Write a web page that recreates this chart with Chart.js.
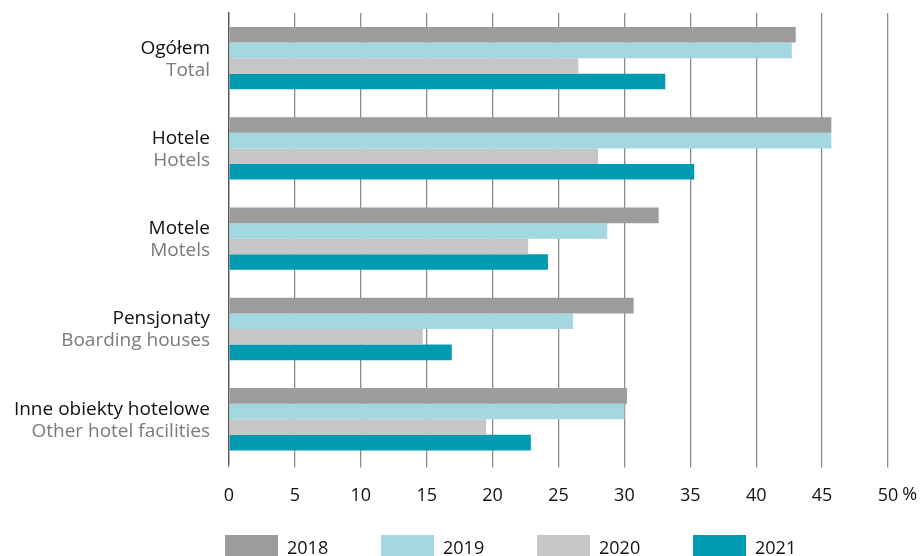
<!DOCTYPE html>
<html>
<head>
<meta charset="utf-8">
<script src="https://cdn.jsdelivr.net/npm/chart.js@4"></script>
<style>
  html, body { margin: 0; padding: 0; background: #fff; }
  #wrap { width: 922px; height: 556px; }
</style>
</head>
<body>
<div id="wrap"><canvas id="wykres"></canvas></div>
<script>
const kategorie = ["Ogółem", "Hotele", "Motele", "Pensjonaty", "Inne obiekty hotelowe"];
const kategorieEn = ["Total", "Hotels", "Motels", "Boarding houses", "Other hotel facilities"];
const lata = ["2018", "2019", "2020", "2021"];
const dane2018 = [43.0, 45.7, 32.6, 30.7, 30.2];
const dane2019 = [42.7, 45.7, 28.7, 26.1, 30.0];
const dane2020 = [26.5, 28.0, 22.7, 14.7, 19.5];
const dane2021 = [33.1, 35.3, 24.2, 16.9, 22.9];
const tickiX = [0, 5, 10, 15, 20, 25, 30, 35, 40, 45, 50];
const kolory = ["#9c9c9c", "#a3d7e1", "#c6c6c6", "#009bb1"];

const FONT = "'Open Sans', sans-serif";
const ctx = document.getElementById("wykres");

const etykietyPlugin = {
    id: "etykiety",
    afterDraw(chart) {
        const c = chart.ctx;
        const y = chart.scales.y;
        const x = chart.scales.x;
        const area = chart.chartArea;
        c.save();
        // etykiety kategorii (PL + EN)
        c.textAlign = "right";
        c.textBaseline = "middle";
        c.font = "19px " + FONT;
        kategorie.forEach((k, i) => {
            const py = y.getPixelForValue(i);
            c.fillStyle = "#111";
            c.fillText(k, area.left - 19, py - 10);
            c.fillStyle = "#7a7a7a";
            c.fillText(kategorieEn[i], area.left - 19, py + 12);
        });
        // znak % za ostatnim tickiem
        c.font = "18px " + FONT;
        c.textAlign = "left";
        c.fillStyle = "#111";
        const ostatni = tickiX[tickiX.length - 1];
        const w = c.measureText(String(ostatni)).width;
        c.fillText("%", x.getPixelForValue(ostatni) + w / 2 + 4, area.bottom + 30);
        // legenda
        lata.forEach((rok, i) => {
            const bx = area.left - 4 + i * 156;
            c.fillStyle = kolory[i];
            c.fillRect(bx, 535, 53, 24);
            c.fillStyle = "#111";
            c.textBaseline = "alphabetic";
            c.fillText(rok, bx + 62, 554);
            c.textBaseline = "middle";
        });
        c.restore();
    }
};

new Chart(ctx, {
    type: "bar",
    data: {
        labels: kategorie,
        datasets: [
            { label: lata[0], data: dane2018, backgroundColor: kolory[0] },
            { label: lata[1], data: dane2019, backgroundColor: kolory[1] },
            { label: lata[2], data: dane2020, backgroundColor: kolory[2] },
            { label: lata[3], data: dane2021, backgroundColor: kolory[3] },
        ],
    },
    options: {
        indexAxis: "y",
        responsive: true,
        maintainAspectRatio: false,
        animation: false,
        datasets: {
            bar: { categoryPercentage: 0.69, barPercentage: 1.0, borderWidth: 0 },
        },
        layout: { padding: { top: 13, right: 34, bottom: 31, left: 0 } },
        plugins: {
            legend: { display: false },
            tooltip: { enabled: false },
        },
        scales: {
            x: {
                min: 0,
                max: 50,
                afterBuildTicks: (scale) => {
                    scale.ticks = tickiX.map((v) => ({ value: v }));
                },
                grid: { color: "#8c8c8c", lineWidth: 1.3, tickLength: 3, drawTicks: true },
                border: { display: false },
                ticks: {
                    color: "#111",
                    font: { family: FONT, size: 18 },
                    padding: 18,
                    maxRotation: 0,
                },
            },
            y: {
                afterFit: (scale) => { scale.width = 229; },
                grid: { display: false },
                border: { display: true, color: "#555", width: 1.3 },
                ticks: { display: false },
            },
        },
    },
    plugins: [etykietyPlugin],
});
</script>
</body>
</html>
